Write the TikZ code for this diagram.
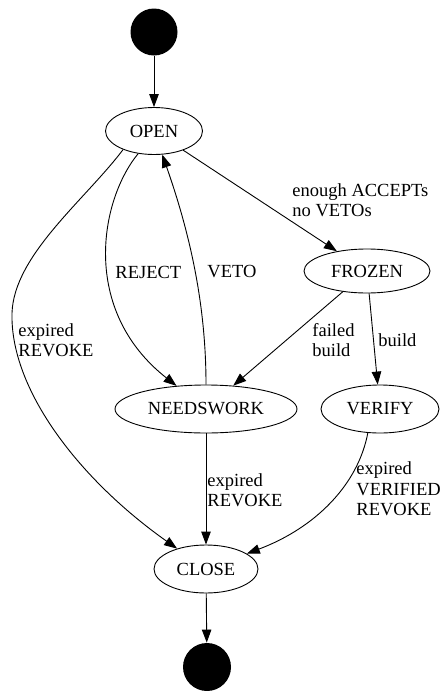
\documentclass[tikz,border=0pt]{standalone}
\usepackage{fontspec}
\setmainfont{Liberation Serif}
\usetikzlibrary{shapes.geometric,arrows.meta}

\begin{document}
\begin{tikzpicture}[x=1pt, y=1pt, line width=0.9pt,
    state/.style = {ellipse, draw, inner sep=0pt},
    dot/.style = {circle, fill=black, inner sep=0pt, minimum size=47pt},
    lbl/.style = {align=left, inner sep=0pt, anchor=west},
    arr/.style = {-{Triangle[length=13pt, width=9.5pt]}},
    every node/.style = {font=\fontsize{18.5}{20.5}\selectfont}]

    \useasboundingbox (0,0) rectangle (444,-691);

    \node[dot] (s) at (154,-32) {};
    \node[state, minimum width=97pt, minimum height=47pt] (o) at (154,-131) {OPEN};
    \node[state, minimum width=126pt, minimum height=44pt] (f) at (367,-271) {FROZEN};
    \node[state, minimum width=182pt, minimum height=48pt] (n) at (206,-409) {NEEDSWORK};
    \node[state, minimum width=118pt, minimum height=48pt] (v) at (380,-409) {VERIFY};
    \node[state, minimum width=104pt, minimum height=48pt] (c) at (206,-569) {CLOSE};
    \node[dot, minimum size=48pt] (e) at (207,-667) {};

    \draw[arr] (s) -- (o);
    \draw[arr] (o) -- (f);
    \draw[arr] (o.235) .. controls (100,-200) and (80,-310) .. (n);
    \draw[arr] (n.north) .. controls (206,-300) and (188,-228) .. (o);
    \draw[arr] (o.211) .. controls (85,-200) and (14,-255) .. (12,-313)
        .. controls (10,-390) and (80,-480) .. (c);
    \draw[arr] (f) -- (n);
    \draw[arr] (f) -- (v);
    \draw[arr] (n) -- (c);
    \draw[arr] (v.243) .. controls (358,-485) and (315,-528) .. (c);
    \draw[arr] (c) -- (e);

    \node[lbl] (l1) at (292,-200) {enough ACCEPTs\\no VETOs};
    \node[lbl] (l2) at (115,-272) {REJECT};
    \node[lbl] (l3) at (207,-272) {VETO};
    \node[lbl] (l4) at (18,-340) {expired\\REVOKE};
    \node[lbl] (l5) at (312,-340) {failed\\build};
    \node[lbl] (l6) at (378,-340) {build};
    \node[lbl] (l7) at (207,-490) {expired\\REVOKE};
    \node[lbl] (l8) at (356,-489) {expired\\VERIFIED\\REVOKE};

\end{tikzpicture}
\end{document}
